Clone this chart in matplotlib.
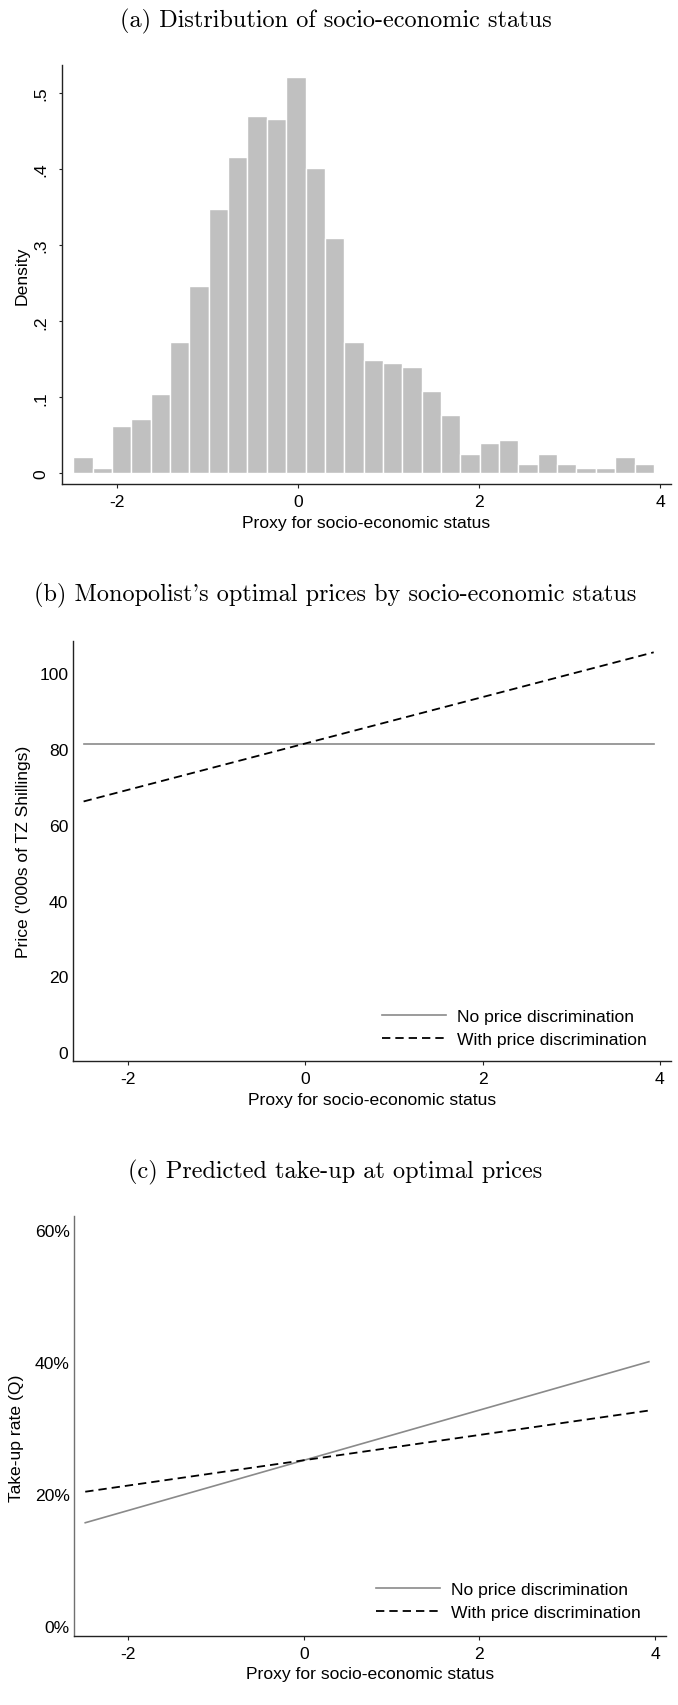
import numpy as np
import matplotlib
matplotlib.use("Agg")
import matplotlib.pyplot as plt
from matplotlib.ticker import FixedLocator, FixedFormatter

plt.rcParams['font.family'] = ['Liberation Sans', 'DejaVu Sans']
plt.rcParams['lines.scale_dashes'] = False

# ---------------- data ----------------
# (a) histogram of SES proxy
hist_left = -2.48
hist_width = 0.2137
hist_density = [0.021, 0.0074, 0.062, 0.0714, 0.104, 0.173, 0.246, 0.347, 0.416, 0.4705,
                0.466, 0.5214, 0.402, 0.310, 0.1724, 0.1495, 0.1447, 0.140, 0.1083, 0.0763,
                0.0254, 0.0395, 0.0442, 0.0118, 0.0254, 0.0118, 0.0074, 0.0074, 0.021, 0.0118]

# (b) optimal prices
ses_b = [-2.50, 3.93]
price_no_pd = [81.3, 81.3]
price_with_pd = [66.1, 105.4]

# (c) take-up
ses_c = [-2.49, 3.93]
takeup_no_pd = [0.156, 0.400]
takeup_with_pd = [0.203, 0.326]

x_ticks = [-2, 0, 2, 4]
x_ticklabels = ['-2', '0', '2', '4']
a_yticks = [0, 0.1, 0.2, 0.3, 0.4, 0.5]
a_yticklabels = ['0', '.1', '.2', '.3', '.4', '.5']
b_yticks = [0, 20, 40, 60, 80, 100]
b_yticklabels = ['0', '20', '40', '60', '80', '100']
c_yticks = [0, 0.2, 0.4, 0.6]
c_yticklabels = ['0%', '20%', '40%', '60%']

# cmr10 maps the ASCII apostrophe to a right quote glyph
titles = ["(a) Distribution of socio-economic status",
          "(b) Monopolist's optimal prices by socio-economic status",
          "(c) Predicted take-up at optimal prices"]
xlabel = "Proxy for socio-economic status"
legend_labels = ["No price discrimination", "With price discrimination"]

# ---------------- layout ----------------
W, H = 678, 1706
fig = plt.figure(figsize=(W / 100, H / 100), dpi=100)

def axes_px(left, right, top, bottom):
    return fig.add_axes([left / W, (H - bottom) / H, (right - left) / W, (bottom - top) / H])

FS = 12.6
TFS = 17.5
gray_line = '#8a8a8a'

def style(ax, ytick_len):
    for s in ['top', 'right']:
        ax.spines[s].set_visible(False)
    for s in ['left', 'bottom']:
        ax.spines[s].set_linewidth(1.0)
        ax.spines[s].set_color('#222222')
    ax.xaxis.set_major_locator(FixedLocator(x_ticks))
    ax.xaxis.set_major_formatter(FixedFormatter(x_ticklabels))
    ax.tick_params(axis='x', direction='out', length=3, width=0.8, pad=4.5,
                   labelsize=FS, colors='#222222', labelcolor='black')
    ax.tick_params(axis='y', direction='out', length=ytick_len, width=0.8,
                   labelsize=FS, colors='#222222', labelcolor='black')

# ---- panel (a)
axa = axes_px(61.7, 671, 66, 485)
bin_edges = hist_left + hist_width * np.arange(len(hist_density))
axa.bar(bin_edges, hist_density, width=hist_width, align='edge',
        color='#c0c0c0', edgecolor='white', linewidth=1.0)
axa.set_xlim(-2.608, 4.12)
axa.set_ylim(-0.0141, 0.537)
style(axa, 2.5)
axa.yaxis.set_major_locator(FixedLocator(a_yticks))
axa.yaxis.set_major_formatter(FixedFormatter(a_yticklabels))
axa.tick_params(axis='y', pad=7)
for lab in axa.get_yticklabels():
    lab.set_rotation(90)
    lab.set_va('center')
axa.set_xlabel(xlabel, fontsize=FS, va='center')
axa.xaxis.set_label_coords(0.5, -0.0919)
axa.set_ylabel("Density", fontsize=FS, va='center')
axa.yaxis.set_label_coords((22 - 61.7) / (671 - 61.7), 0.5)

# ---- panel (b)
axb = axes_px(72.7, 671, 641.7, 1061.7)
axb.plot(ses_b, price_no_pd, color=gray_line, lw=1.2, label=legend_labels[0])
axb.plot(ses_b, price_with_pd, color='black', lw=1.3, dashes=[6, 3.6],
         label=legend_labels[1])
axb.set_xlim(-2.623, 4.125)
axb.set_ylim(-2.21, 108.46)
style(axb, 0)
axb.yaxis.set_major_locator(FixedLocator(b_yticks))
axb.yaxis.set_major_formatter(FixedFormatter(b_yticklabels))
axb.tick_params(axis='y', pad=3.2)
axb.set_xlabel(xlabel, fontsize=FS, va='center')
axb.xaxis.set_label_coords(0.5, -0.0912)
axb.set_ylabel("Price ('000s of TZ Shillings)", fontsize=FS, va='center')
axb.yaxis.set_label_coords((23.3 - 72.7) / (671 - 72.7), 0.5)
axb.legend(loc='upper left', bbox_to_anchor=((381.7 - 72.7) / 598.3, (1061.7 - 1010) / 420),
           frameon=False, fontsize=FS, handlelength=3.67, handletextpad=0.63,
           labelspacing=0.41, borderpad=0, borderaxespad=0)

# ---- panel (c)
axc = axes_px(74, 666, 1217.3, 1637)
axc.plot(ses_c, takeup_no_pd, color=gray_line, lw=1.2, label=legend_labels[0])
axc.plot(ses_c, takeup_with_pd, color='black', lw=1.3, dashes=[6, 3.6],
         label=legend_labels[1])
axc.set_xlim(-2.618, 4.125)
axc.set_ylim(-0.0156, 0.6203)
style(axc, 0)
axc.spines['left'].set_color('#707070')
axc.yaxis.set_major_locator(FixedLocator(c_yticks))
axc.yaxis.set_major_formatter(FixedFormatter(c_yticklabels))
axc.tick_params(axis='y', pad=3.0)
axc.set_xlabel(xlabel, fontsize=FS, va='center')
axc.xaxis.set_label_coords(0.5, -0.0905)
axc.set_ylabel("Take-up rate (Q)", fontsize=FS, va='center')
axc.yaxis.set_label_coords((17 - 74) / 592, 0.474)
axc.legend(loc='upper left', bbox_to_anchor=((376 - 74) / 592, (1637 - 1583) / 419.7),
           frameon=False, fontsize=FS, handlelength=3.67, handletextpad=0.63,
           labelspacing=0.41, borderpad=0, borderaxespad=0)

# ---- titles
for t, yc in zip(titles, [21, 595, 1172]):
    fig.text(335.5 / W, 1 - yc / H, t, ha='center', va='center',
             fontsize=TFS, family=['cmr10', 'DejaVu Serif'])

fig.savefig("out.png", dpi=100)
